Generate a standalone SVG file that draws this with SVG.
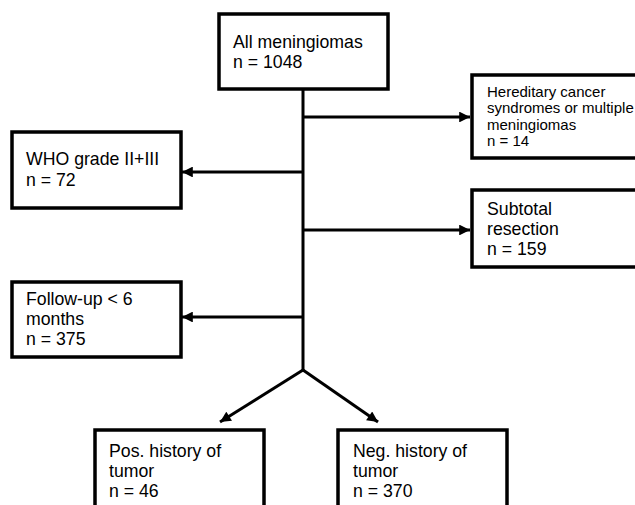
<svg xmlns="http://www.w3.org/2000/svg" width="635" height="505" viewBox="0 0 635 505">
<defs>
<style>
.box{fill:#fff;stroke:#000;stroke-width:3.5}
.t{font-family:"Liberation Sans",Arial,sans-serif;font-size:17.7px;fill:#000}
.s{font-family:"Liberation Sans",Arial,sans-serif;font-size:15px;fill:#000}
.ln{fill:none;stroke:#000;stroke-width:3}
</style>
<marker id="ah" viewBox="0 0 10 10" refX="10" refY="5" markerWidth="4" markerHeight="3.6" markerUnits="strokeWidth" orient="auto">
<path d="M0,0 L10,5 L0,10 z" fill="#000"/>
</marker>
</defs>
<rect width="635" height="505" fill="#fff"/>
<g id="connectors">
<path class="ln" d="M303,89 V370"/>
<path class="ln" d="M303,117 H470" marker-end="url(#ah)"/>
<path class="ln" d="M303,172 H182" marker-end="url(#ah)"/>
<path class="ln" d="M303,230 H470" marker-end="url(#ah)"/>
<path class="ln" d="M303,317 H182" marker-end="url(#ah)"/>
<path class="ln" d="M303,370 L220,422" marker-end="url(#ah)"/>
<path class="ln" d="M303,370 L378,422" marker-end="url(#ah)"/>
</g>
<g id="all">
<rect class="box" x="219" y="14" width="169" height="75"/>
<text class="t" x="233" y="48">All meningiomas</text>
<text class="t" x="233" y="68">n = 1048</text>
</g>
<g id="hereditary">
<rect class="box" x="472" y="75" width="175" height="83"/>
<text class="s" x="487" y="97">Hereditary cancer</text>
<text class="s" x="487" y="113">syndromes or multiple</text>
<text class="s" x="487" y="130">meningiomas</text>
<text class="s" x="487" y="146">n = 14</text>
</g>
<g id="who">
<rect class="box" x="12" y="132" width="169" height="76"/>
<text class="t" x="26" y="165">WHO grade II+III</text>
<text class="t" x="26" y="186">n = 72</text>
</g>
<g id="subtotal">
<rect class="box" x="472" y="190" width="175" height="77"/>
<text class="t" x="487" y="215">Subtotal</text>
<text class="t" x="487" y="235">resection</text>
<text class="t" x="487" y="255">n = 159</text>
</g>
<g id="followup">
<rect class="box" x="12" y="282" width="169" height="75"/>
<text class="t" x="26" y="305">Follow-up &lt; 6</text>
<text class="t" x="26" y="325">months</text>
<text class="t" x="26" y="345">n = 375</text>
</g>
<g id="pos">
<rect class="box" x="95" y="430" width="169" height="90"/>
<text class="t" x="109" y="457">Pos. history of</text>
<text class="t" x="109" y="477">tumor</text>
<text class="t" x="109" y="497">n = 46</text>
</g>
<g id="neg">
<rect class="box" x="338" y="430" width="169" height="90"/>
<text class="t" x="353" y="457">Neg. history of</text>
<text class="t" x="353" y="477">tumor</text>
<text class="t" x="353" y="497">n = 370</text>
</g>
</svg>
